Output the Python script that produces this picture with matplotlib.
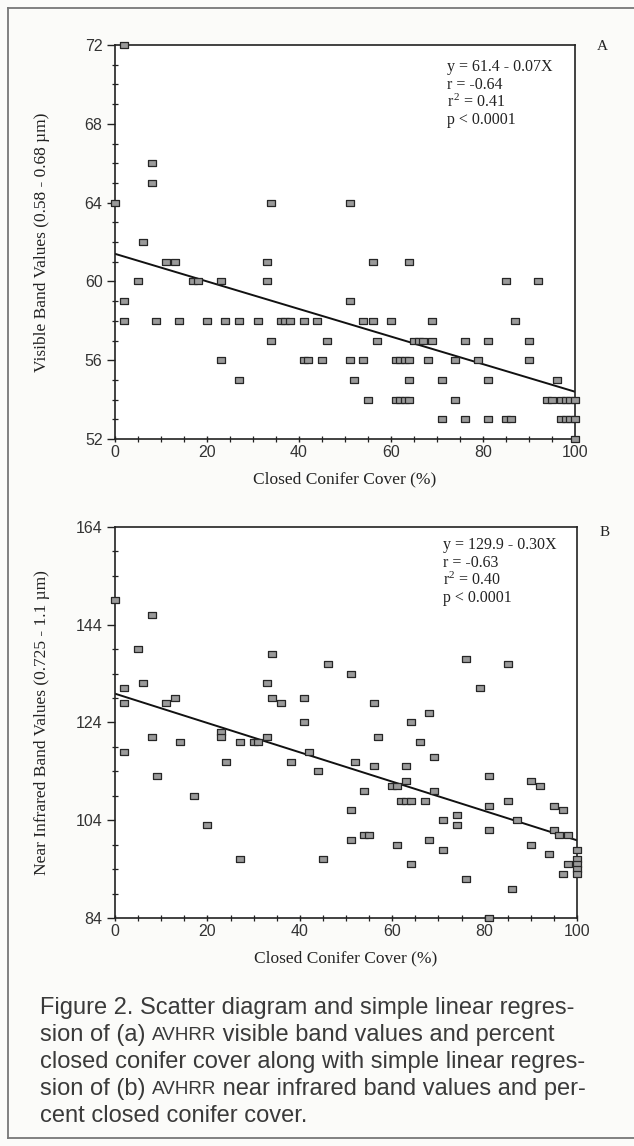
import numpy as np
import matplotlib
matplotlib.use('Agg')
import matplotlib.pyplot as plt
from matplotlib.lines import Line2D
from matplotlib.ticker import MultipleLocator

# Data

cover_a = [2, 8, 8, 0, 34, 51, 6, 11, 13, 33, 56, 64,
           5, 17, 18, 23, 33, 85, 92, 2, 51,
           2, 9, 14, 20, 24, 27, 31, 36, 37, 38, 41, 44, 54, 56, 60, 69, 87,
           34, 46, 57, 65, 66, 67, 69, 76, 81, 90,
           23, 41, 42, 45, 51, 54, 61, 62, 63, 64, 68, 74, 79, 90,
           27, 52, 64, 71, 81, 96,
           55, 61, 62, 63, 64, 74, 94, 95, 97, 98, 99, 100,
           71, 76, 81, 85, 86, 97, 98, 99, 100,
           100]
visible_a = [72, 66, 65, 64, 64, 64, 62, 61, 61, 61, 61, 61,
             60, 60, 60, 60, 60, 60, 60, 59, 59,
             58, 58, 58, 58, 58, 58, 58, 58, 58, 58, 58, 58, 58, 58, 58, 58, 58,
             57, 57, 57, 57, 57, 57, 57, 57, 57, 57,
             56, 56, 56, 56, 56, 56, 56, 56, 56, 56, 56, 56, 56, 56,
             55, 55, 55, 55, 55, 55,
             54, 54, 54, 54, 54, 54, 54, 54, 54, 54, 54, 54,
             53, 53, 53, 53, 53, 53, 53, 53, 53,
             52]

cover_b = [0, 8, 5, 2, 6, 2, 11, 13, 8, 14, 23, 23, 27, 30, 31, 33, 34, 34,
           36, 33, 41, 41, 46, 51, 56, 57, 42, 76, 85, 79, 68, 64, 66, 2, 9,
           24, 17, 20, 27, 38, 44, 45, 52, 56, 54, 51, 51, 54, 55, 60, 61, 61,
           63, 69, 63, 62, 63, 64, 67, 69, 68, 71, 71, 64, 74, 74, 76, 81, 81,
           81, 81, 85, 87, 86, 90, 92, 90, 94, 95, 97, 95, 96, 98, 97, 98,
           100, 100, 100, 100, 100]
nir_b = [149, 146, 139, 131, 132, 128, 128, 129, 121, 120, 122, 121, 120, 120,
         120, 132, 138, 129, 128, 121, 129, 124, 136, 134, 128, 121, 118, 137,
         136, 131, 126, 124, 120, 118, 113, 116, 109, 103, 96, 116, 114, 96,
         116, 115, 110, 106, 100, 101, 101, 111, 111, 99, 115, 117, 112, 108,
         108, 108, 108, 110, 100, 104, 98, 95, 105, 103, 92, 113, 107, 102, 84,
         108, 104, 90, 112, 111, 99, 97, 107, 106, 102, 101, 101, 93, 95,
         98, 96, 95, 94, 93]

fit_a = (61.4, -0.07)
fit_b = (129.9, -0.30)
yticks_a = [52, 56, 60, 64, 68, 72]
yticks_b = [84, 104, 124, 144, 164]
xticks = [0, 20, 40, 60, 80, 100]
stats_a = ['y = 61.4 - 0.07X', 'r = -0.64', r'r$^{\,2}$ = 0.41', 'p < 0.0001']
stats_b = ['y = 129.9 - 0.30X', 'r = -0.63', r'r$^{2}$ = 0.40', 'p < 0.0001']

caption = [
    [('Figure 2. Scatter diagram and simple linear regres-', 1.0)],
    [('sion of (a) ', 1.0), ('AVHRR', 0.8), (' visible band values and percent', 1.0)],
    [('closed conifer cover along with simple linear regres-', 1.0)],
    [('sion of (b) ', 1.0), ('AVHRR', 0.8), (' near infrared band values and per-', 1.0)],
    [('cent closed conifer cover.', 1.0)],
]

# Figure

plt.rcParams['mathtext.fontset'] = 'custom'
plt.rcParams['mathtext.rm'] = 'Liberation Serif'
plt.rcParams['mathtext.it'] = 'Liberation Serif'
serif = 'Liberation Serif'
sans = 'Liberation Sans'
W, H = 634., 1146.
ink = '#222222'

fig = plt.figure(figsize=(W / 100., H / 100.), dpi=100, facecolor='#fbfbf9')

box = [(-1.5, -1), (1.5, -1), (1.5, 1), (-1.5, 1), (-1.5, -1)]


def panel(rect, x, y, fit, stats, yticks, ymin, ylabel, letter, lpos):
    ax = fig.add_axes(rect)
    ax.set_facecolor('white')
    ax.plot(x, y, linestyle='none', marker=box, markersize=5.6,
            markerfacecolor='#9a9a9a', markeredgecolor='#262626',
            markeredgewidth=0.9, clip_on=False, zorder=3)
    xx = np.array([0., 100.])
    ax.plot(xx, fit[0] + fit[1] * xx, color='#111111', lw=1.4, zorder=2)
    ax.set_xlim(0, 100)
    ax.set_ylim(yticks[0], yticks[-1])
    ax.set_xticks(xticks)
    ax.set_yticks(yticks)
    ax.xaxis.set_minor_locator(MultipleLocator(5))
    ax.yaxis.set_minor_locator(MultipleLocator(ymin, offset=yticks[0] % ymin))
    for s in ax.spines.values():
        s.set_linewidth(1.2)
        s.set_color(ink)
    ax.tick_params(axis='y', which='major', direction='out', length=6,
                   width=1.0, color=ink, pad=3, labelsize=11.5)
    ax.tick_params(axis='y', which='minor', direction='inout', length=5,
                   width=0.9, color=ink)
    ax.tick_params(axis='x', which='major', direction='inout', length=5,
                   width=1.0, color=ink, pad=2, labelsize=11.5)
    ax.tick_params(axis='x', which='minor', direction='inout', length=4,
                   width=0.9, color=ink)
    for lab in ax.get_xticklabels() + ax.get_yticklabels():
        lab.set_fontfamily(sans)
        lab.set_color('#333333')
    ax.set_xlabel('Closed Conifer Cover (%)', family=serif, fontsize=12.5,
                  color='#222222', labelpad=8)
    ax.set_ylabel(ylabel, family=serif, fontsize=12.5, color='#222222',
                  va='center')
    ax.yaxis.set_label_coords(-0.159, 0.5)
    for i, s in enumerate(stats):
        ax.text(lpos[0], lpos[1] - i * 0.045, s, transform=ax.transAxes,
                family=serif, fontsize=11.5, va='center', ha='left',
                color='#222222')
    fig.text(letter[0] / W, 1 - letter[1] / H, letter[2], family=serif,
             fontsize=11, ha='center', va='center', color='#222222')
    return ax


axA = panel([115 / W, 1 - 439 / H, 460 / W, 394 / H], cover_a, visible_a,
            fit_a, stats_a, yticks_a, 1,
            u'Visible Band Values (0.58 - 0.68 \u00b5m)', (602, 47, 'A'),
            (0.722, 0.944))
axB = panel([115 / W, 1 - 918 / H, 462 / W, 391 / H], cover_b, nir_b,
            fit_b, stats_b, yticks_b, 5,
            u'Near Infrared Band Values (0.725 - 1.1 \u00b5m)', (605, 533, 'B'),
            (0.71, 0.954))

# Caption, with AVHRR set smaller

renderer = fig.canvas.get_renderer()
cap_size = 17
y0 = 1008.
for i, line in enumerate(caption):
    xpos = 40.
    ypos = 1 - (y0 + i * 27.) / H
    for txt, scale in line:
        t = fig.text(xpos / W, ypos, txt, family=sans,
                     fontsize=cap_size * scale, color='#3a3a3a',
                     va='center', ha='left')
        xpos += t.get_window_extent(renderer).width

# Page frame
frame = dict(color='#777777', lw=1.3, transform=fig.transFigure)
fig.add_artist(Line2D([8 / W, 8 / W], [1 - 8 / H, 1 - 1138 / H], **frame))
fig.add_artist(Line2D([8 / W, 1.0], [1 - 8 / H, 1 - 8 / H], **frame))
fig.add_artist(Line2D([8 / W, 1.0], [1 - 1138 / H, 1 - 1138 / H], **frame))

plt.savefig('out.png', dpi=100, facecolor=fig.get_facecolor())
